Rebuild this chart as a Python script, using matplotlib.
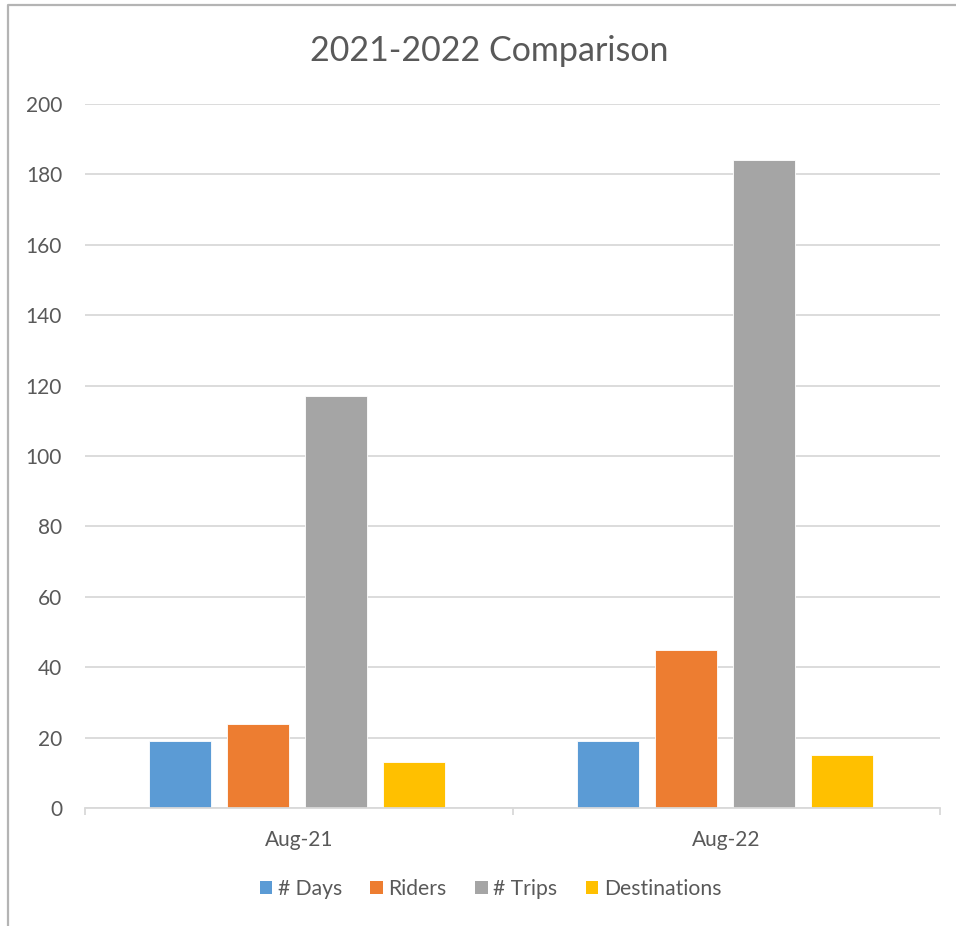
import matplotlib
matplotlib.use("Agg")
import matplotlib.pyplot as plt
from matplotlib.lines import Line2D
from matplotlib.patches import Patch
import numpy as np

# Data
categories = ["Aug-21", "Aug-22"]
series_names = ["# Days", "Riders", "# Trips", "Destinations"]
days = [19, 19]
riders = [24, 45]
trips = [117, 184]
destinations = [13, 15]
y_ticks = [0, 20, 40, 60, 80, 100, 120, 140, 160, 180, 200]

series_values = [days, riders, trips, destinations]
colors = ["#5B9BD5", "#ED7D31", "#A5A5A5", "#FFC000"]
text_color = "#595959"
grid_color = "#D9D9D9"

plt.rcParams["font.family"] = ["Lato", "DejaVu Sans"]

W, H = 956, 926
fig = plt.figure(figsize=(W / 100, H / 100), dpi=100)
fig.patch.set_facecolor("white")

ax = fig.add_axes([85 / W, (H - 808) / H, (940 - 85) / W, (808 - 104) / H])

x = np.arange(len(categories))
bar_w = 0.145
step = 0.1825
for i, (vals, c) in enumerate(zip(series_values, colors)):
    ax.bar(x + (i - 1.5) * step - 0.004, vals, width=bar_w, color=c,
           edgecolor="white", linewidth=0.6, zorder=3, label=series_names[i])

ax.set_xlim(-0.5, len(categories) - 0.5)
ax.set_ylim(0, 200)
ax.set_yticks(y_ticks)
ax.set_yticklabels([str(v) for v in y_ticks])
ax.yaxis.grid(True, color=grid_color, linewidth=1.3, zorder=0)
ax.set_axisbelow(True)

for s in ["top", "right", "left"]:
    ax.spines[s].set_visible(False)
ax.spines["bottom"].set_color(grid_color)
ax.spines["bottom"].set_linewidth(1.3)
ax.spines["bottom"].set_zorder(4)

ax.set_xticks(x)
ax.set_xticklabels(categories)
ax.set_xticks(np.arange(-0.5, len(categories), 1.0), minor=True)
ax.tick_params(axis="x", which="major", length=0, pad=15.5, labelsize=15, labelcolor=text_color)
ax.tick_params(axis="x", which="minor", length=5, width=1.3, color=grid_color, direction="out")
ax.tick_params(axis="y", length=0, pad=16.5, labelsize=15, labelcolor=text_color)

fig.text(489.5 / W, (H - 51) / H, "2021-2022 Comparison", ha="center", va="center",
         fontsize=24.5, color=text_color)

handles = [Patch(facecolor=c, edgecolor="none") for c in colors]
fig.legend(handles, series_names, loc="center", bbox_to_anchor=(490.5 / W, (H - 889) / H),
           ncol=4, frameon=False, fontsize=15.2, labelcolor=text_color,
           handlelength=0.6, handleheight=0.6, handletextpad=0.25, columnspacing=1.35)

# Chart frame
fig.add_artist(Line2D([8 / W, 8 / W, 1.0], [0.0, 1 - 5 / H, 1 - 5 / H],
                      transform=fig.transFigure, color="#B4B4B4", linewidth=1.6))

fig.savefig("out.png", dpi=100, facecolor="white")
